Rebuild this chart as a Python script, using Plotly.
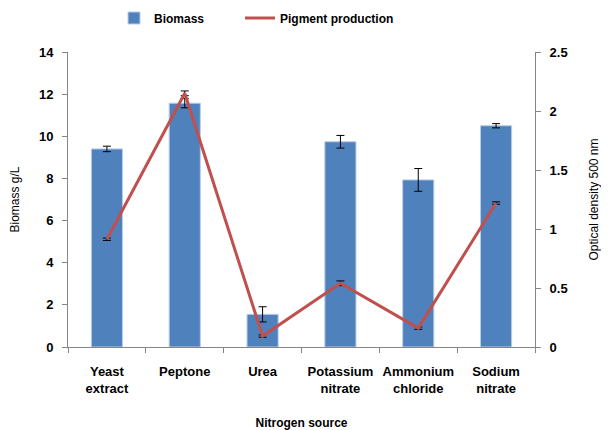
import plotly.graph_objects as go

categories = ["Yeast<br>extract", "Peptone", "Urea", "Potassium<br>nitrate", "Ammonium<br>chloride", "Sodium<br>nitrate"]
biomass = [9.40, 11.57, 1.55, 9.74, 7.93, 10.50]
biomass_err = [0.13, 0.22, 0.36, 0.30, 0.54, 0.10]
pigment = [0.913, 2.15, 0.093, 0.54, 0.16, 1.22]
pigment_err = [0.01, 0.02, 0.01, 0.02, 0.01, 0.01]

font_family = "Liberation Sans, Arial, sans-serif"

fig = go.Figure()
fig.add_trace(go.Bar(
    x=categories, y=biomass, name="Biomass",
    marker=dict(color="#4F81BD", line=dict(color="#B9CDE5", width=1)),
    width=0.4,
    error_y=dict(type="data", array=biomass_err, color="black", thickness=1, width=4),
    yaxis="y", legend="legend",
))
fig.add_trace(go.Scatter(
    x=categories, y=pigment, name="Pigment production", mode="lines",
    line=dict(color="#C0504D", width=3),
    error_y=dict(type="data", array=pigment_err, color="black", thickness=1, width=4),
    yaxis="y2", legend="legend2",
))

W, H = 601, 422
legend_common = dict(orientation="h", xref="container", yref="container",
                     xanchor="left", yanchor="middle",
                     font=dict(size=12, family=font_family, weight="bold"),
                     bgcolor="rgba(0,0,0,0)")

fig.update_layout(
    width=W, height=H,
    margin=dict(l=60, r=74, t=44, b=83, autoexpand=False),
    plot_bgcolor="white", paper_bgcolor="white",
    font=dict(family=font_family, size=12, color="black"),
    showlegend=True,
    legend=dict(x=106 / W, y=1 - 10 / H, **legend_common),
    legend2=dict(x=232 / W, y=1 - 10 / H, **legend_common),
    xaxis=dict(
        showline=True, linecolor="#868686", linewidth=1,
        ticks="outside", tickson="boundaries", ticklen=5, tickcolor="#868686",
        tickfont=dict(size=13, weight="bold"), tickangle=0, ticklabelstandoff=12,
        title=dict(text="Nitrogen source", font=dict(size=12, weight="bold"), standoff=24),
        showgrid=False, automargin=False,
    ),
    yaxis=dict(
        range=[0, 14], dtick=2,
        showline=True, linecolor="#868686", linewidth=1,
        ticks="outside", ticklen=5, tickcolor="#868686",
        tickfont=dict(size=13, weight="bold"), ticklabelstandoff=6,
        title=dict(text="Biomass g/L", font=dict(size=12), standoff=18),
        showgrid=False, zeroline=False, automargin=False,
    ),
    yaxis2=dict(
        range=[0, 2.5], dtick=0.5, overlaying="y", side="right",
        showline=True, linecolor="#868686", linewidth=1,
        ticks="outside", ticklen=5, tickcolor="#868686",
        tickfont=dict(size=13, weight="bold"), ticklabelstandoff=6,
        title=dict(text="Optical density 500 nm", font=dict(size=12), standoff=22),
        showgrid=False, zeroline=False, automargin=False,
    ),
)

fig.write_html("out.html")
